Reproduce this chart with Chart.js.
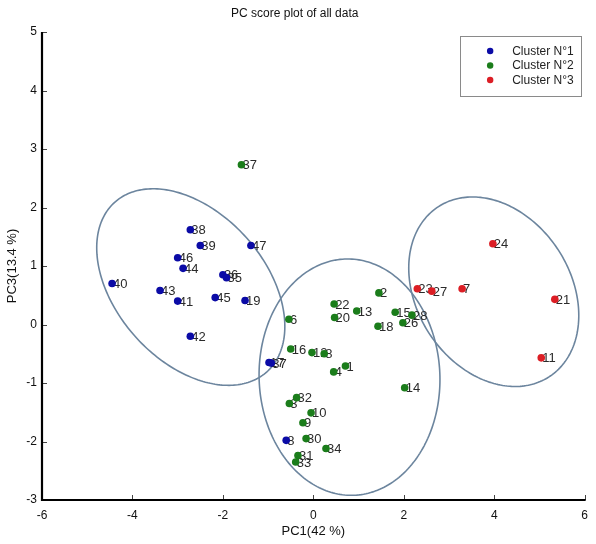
<!DOCTYPE html>
<html><head><meta charset="utf-8">
<script src="https://cdn.jsdelivr.net/npm/chart.js@4.4.1/dist/chart.umd.min.js"></script>
<style>html,body{margin:0;padding:0;background:#fff}</style>
</head><body>
<canvas id="c" width="596" height="544"></canvas>
<script>
// ---- data ----
const titleText = 'PC score plot of all data';
const xAxisTitle = 'PC1(42 %)';
const yAxisTitle = 'PC3(13.4 %)';
const xTicks = [-6, -4, -2, 0, 2, 4, 6];
const yTicks = [-3, -2, -1, 0, 1, 2, 3, 4, 5];
const clusterNames = ['Cluster N°1', 'Cluster N°2', 'Cluster N°3'];

const c1Labels = ['38', '39', '47', '46', '44', '36', '35', '40', '43', '41', '45', '19', '42', '17', '37', '8'];
const c1X = [-2.72, -2.50, -1.38, -3.00, -2.88, -2.00, -1.92, -4.45, -3.39, -3.00, -2.17, -1.51, -2.72, -0.98, -0.93, -0.60];
const c1Y = [1.62, 1.35, 1.35, 1.14, 0.96, 0.85, 0.80, 0.70, 0.58, 0.40, 0.46, 0.41, -0.20, -0.65, -0.66, -1.98];

const c2Labels = ['37', '2', '22', '20', '13', '15', '28', '26', '18', '6', '16', '12', '8', '4', '1', '14', '32', '3', '10', '9', '30', '34', '31', '33'];
const c2X = [-1.59, 1.45, 0.46, 0.47, 0.96, 1.81, 2.18, 1.98, 1.43, -0.54, -0.50, -0.03, 0.24, 0.45, 0.71, 2.02, -0.37, -0.53, -0.05, -0.23, -0.16, 0.28, -0.34, -0.39];
const c2Y = [2.73, 0.54, 0.35, 0.12, 0.23, 0.21, 0.16, 0.03, -0.03, 0.09, -0.42, -0.48, -0.50, -0.81, -0.71, -1.08, -1.25, -1.35, -1.51, -1.68, -1.95, -2.12, -2.24, -2.35];

const c3Labels = ['24', '23', '27', '7', '21', '11'];
const c3X = [3.97, 2.30, 2.62, 3.29, 5.34, 5.04];
const c3Y = [1.38, 0.61, 0.57, 0.61, 0.43, -0.57];

// cluster ellipses (data units): centre, half-extent in x and y, correlation
const ellipseCX = [-2.71, 0.80, 3.99];
const ellipseCY = [0.64, -0.90, 0.56];
const ellipseSX = [2.08, 2.00, 1.88];
const ellipseSY = [1.68, 2.02, 1.62];
const ellipseRho = [-0.40, -0.02, -0.25];

// ---- chart ----
const FONT = '"Liberation Sans", Arial, sans-serif';
Chart.defaults.font.family = FONT;
const colors = ['#0b0ba6', '#1b7d1b', '#dc1e25'];
const mk = (xs, ys, ls) => xs.map((v, i) => ({x: v, y: ys[i], label: ls[i]}));

const overlay = {
  id: 'overlay',
  beforeDatasetsDraw(chart) {
    const {ctx, scales: {x, y}} = chart;
    ctx.save();
    ctx.strokeStyle = '#6c859e';
    ctx.lineWidth = 1.6;
    for (let k = 0; k < ellipseCX.length; k++) {
      ctx.beginPath();
      const n = 240;
      const q = Math.sqrt(1 - ellipseRho[k] * ellipseRho[k]);
      for (let i = 0; i <= n; i++) {
        const t = i / n * Math.PI * 2;
        const dx = ellipseSX[k] * Math.cos(t);
        const dy = ellipseSY[k] * (ellipseRho[k] * Math.cos(t) + q * Math.sin(t));
        const px = x.getPixelForValue(ellipseCX[k] + dx);
        const py = y.getPixelForValue(ellipseCY[k] + dy);
        if (i === 0) ctx.moveTo(px, py); else ctx.lineTo(px, py);
      }
      ctx.closePath();
      ctx.stroke();
    }
    ctx.font = '13px ' + FONT;
    ctx.fillStyle = '#2a2a2a';
    ctx.textBaseline = 'middle';
    ctx.textAlign = 'left';
    chart.data.datasets.forEach((ds, di) => {
      const meta = chart.getDatasetMeta(di);
      meta.data.forEach((pt, i) => {
        ctx.fillText(ds.data[i].label, pt.x + 1, pt.y + 1);
      });
    });
    ctx.restore();
  },
  afterDraw(chart) {
    const {ctx, chartArea: a, scales: {x, y}} = chart;
    ctx.save();
    // ticks (inward)
    ctx.strokeStyle = '#444';
    ctx.lineWidth = 1;
    xTicks.forEach(v => {
      const px = Math.round(x.getPixelForValue(v)) + 0.5;
      ctx.beginPath(); ctx.moveTo(px, a.bottom); ctx.lineTo(px, a.bottom - 5); ctx.stroke();
    });
    yTicks.forEach(v => {
      const py = Math.round(y.getPixelForValue(v)) + 0.5;
      ctx.beginPath(); ctx.moveTo(a.left, py); ctx.lineTo(a.left + 5, py); ctx.stroke();
    });
    // axis lines
    ctx.strokeStyle = '#000';
    ctx.lineWidth = 2.2;
    ctx.beginPath();
    ctx.moveTo(a.left, a.top);
    ctx.lineTo(a.left, a.bottom);
    ctx.lineTo(a.right + 1, a.bottom);
    ctx.stroke();
    // legend
    const lx = a.right - 124.5, ly = a.top + 4, lw = 121, lh = 60;
    ctx.fillStyle = '#fff';
    ctx.fillRect(lx, ly, lw, lh);
    ctx.strokeStyle = '#8a8a8a';
    ctx.lineWidth = 1;
    ctx.strokeRect(Math.round(lx) + 0.5, Math.round(ly) + 0.5, lw, lh);
    ctx.font = '12px ' + FONT;
    ctx.textBaseline = 'middle';
    ctx.textAlign = 'left';
    clusterNames.forEach((name, i) => {
      const yy = ly + 15 + i * 14.5;
      ctx.fillStyle = colors[i];
      ctx.beginPath(); ctx.arc(lx + 30, yy, 3.2, 0, Math.PI * 2); ctx.fill();
      ctx.fillStyle = '#222';
      ctx.fillText(name, lx + 52, yy + 0.5);
    });
    ctx.restore();
  }
};

const datasets = [
  {label: clusterNames[0], data: mk(c1X, c1Y, c1Labels)},
  {label: clusterNames[1], data: mk(c2X, c2Y, c2Labels)},
  {label: clusterNames[2], data: mk(c3X, c3Y, c3Labels)}
].map((d, i) => Object.assign(d, {
  backgroundColor: colors[i], borderColor: colors[i],
  pointRadius: 3.8, pointBorderWidth: 0, pointHoverRadius: 3.8, showLine: false
}));

new Chart(document.getElementById('c'), {
  type: 'scatter',
  data: {datasets},
  options: {
    responsive: false,
    animation: false,
    events: [],
    layout: {padding: {left: 0, right: 6.5, top: 0, bottom: 0}},
    plugins: {
      legend: {display: false},
      tooltip: {enabled: false},
      title: {display: true, text: titleText, color: '#111',
        font: {size: 12, weight: 'normal', lineHeight: 1.2},
        padding: {top: 6, bottom: 11.6}}
    },
    scales: {
      x: {
        type: 'linear', min: -6, max: 6,
        afterBuildTicks: s => { s.ticks = xTicks.map(v => ({value: v})); },
        afterFit: s => { s.height = 44; },
        grid: {display: false, drawTicks: false},
        border: {display: false},
        ticks: {padding: 8, color: '#111', font: {size: 12}, maxRotation: 0, autoSkip: false},
        title: {display: true, text: xAxisTitle, color: '#111', font: {size: 13, lineHeight: 1.2}, padding: {top: 0, bottom: 5}}
      },
      y: {
        type: 'linear', min: -3, max: 5,
        afterBuildTicks: s => { s.ticks = yTicks.map(v => ({value: v})); },
        afterFit: s => { s.width = 42; },
        grid: {display: false, drawTicks: false},
        border: {display: false},
        ticks: {padding: 5, color: '#111', font: {size: 12}, autoSkip: false},
        title: {display: true, text: yAxisTitle, color: '#111', font: {size: 13, lineHeight: 1.2}, padding: {top: 5, bottom: 0}}
      }
    }
  },
  plugins: [overlay]
});
</script>
</body></html>
